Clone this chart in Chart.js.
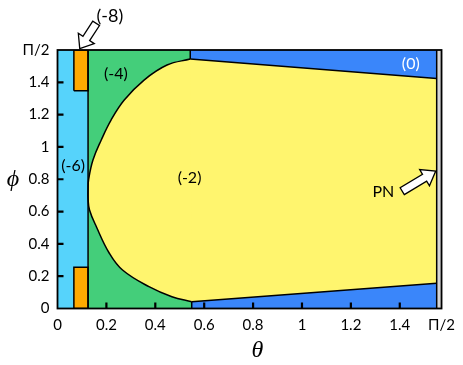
<!DOCTYPE html>
<html>
<head>
<meta charset="utf-8">
<script src="https://cdn.jsdelivr.net/npm/chart.js@4.4.0/dist/chart.umd.min.js"></script>
<style>
body{margin:0;background:#fff}
#wrap{width:463px;height:365px;position:relative}
</style>
</head>
<body>
<div id="wrap"><canvas id="phase"></canvas></div>
<script>
// axes
const thetaMax = Math.PI / 2
const phiMax = 1.6
const xTicks = [0, 0.2, 0.4, 0.6, 0.8, 1, 1.2, 1.4, thetaMax]
const xTickLabels = ['0', '0.2', '0.4', '0.6', '0.8', '1', '1.2', '1.4', 'Π/2']
const yTicks = [0, 0.2, 0.4, 0.6, 0.8, 1, 1.2, 1.4, phiMax]
const yTickLabels = ['0', '0.2', '0.4', '0.6', '0.8', '1', '1.2', '1.4', 'Π/2']

// boundary (-4)/(-2), read from top to bottom
const curveTheta = [0.543, 0.448, 0.354, 0.273, 0.219, 0.179, 0.145, 0.127, 0.125, 0.125, 0.131, 0.159, 0.212, 0.266, 0.374, 0.468, 0.549]
const curvePhi   = [1.544, 1.507, 1.414, 1.290, 1.166, 1.043, 0.919, 0.795, 0.740, 0.680, 0.610, 0.506, 0.342, 0.238, 0.135, 0.073, 0.042]
// boundaries (-2)/(0)
const upperEdgeTheta = [0.543, 1.551]
const upperEdgePhi = [1.544, 1.424]
const lowerEdgeTheta = [0.549, 1.551]
const lowerEdgePhi = [0.042, 0.156]
// (-6) strip, (-8) bars, PN strip
const stripTheta = [0, 0.125]
const barTheta = [0.067, 0.125]
const upperBarPhi = [1.348, phiMax]
const lowerBarPhi = [0, 0.255]
const pnTheta = [1.551, thetaMax]

// region names
const regionLabels = ['(-8)', '(-4)', '(-6)', '(-2)', '(0)', 'PN']
const labelTheta = [0.214, 0.239, 0.064, 0.54, 1.445, 1.333]
const labelPhi = [1.811, 1.45, 0.882, 0.811, 1.517, 0.722]

const CYAN = 'rgb(86,211,251)'
const GREEN = 'rgb(68,206,122)'
const YELLOW = 'rgb(255,245,110)'
const BLUE = 'rgb(58,134,250)'
const GRAY = 'rgb(212,212,212)'
const ORANGE = 'rgb(255,170,0)'

function pts(xs, ys, close){
    let out = xs.map((x, i) => ({x: x, y: ys[i]}))
    if(close) out.push({x: xs[0], y: ys[0]})
    return out
}

function rect(x0, x1, y0, y1){
    return pts([x0, x1, x1, x0], [y0, y0, y1, y1], true)
}

// filled areas, no outlines
const fills = [
    {color: CYAN, data: rect(stripTheta[0], stripTheta[1], 0, phiMax)},
    {color: GREEN, data: pts(
        [stripTheta[1], lowerEdgeTheta[0], lowerEdgeTheta[0], upperEdgeTheta[0], upperEdgeTheta[0], stripTheta[1]],
        [0, 0, lowerEdgePhi[0], upperEdgePhi[0], phiMax, phiMax], true)},
    {color: YELLOW, data: pts(
        curveTheta.concat([lowerEdgeTheta[1], upperEdgeTheta[1]]),
        curvePhi.concat([lowerEdgePhi[1], upperEdgePhi[1]]), true)},
    {color: YELLOW, data: pts(curveTheta, curvePhi, false), tension: 0.4},
    {color: BLUE, data: pts(
        [upperEdgeTheta[0], upperEdgeTheta[1], upperEdgeTheta[1], upperEdgeTheta[0]],
        [upperEdgePhi[0], upperEdgePhi[1], phiMax, phiMax], true)},
    {color: BLUE, data: pts(
        [lowerEdgeTheta[0], lowerEdgeTheta[1], lowerEdgeTheta[1], lowerEdgeTheta[0]],
        [0, 0, lowerEdgePhi[1], lowerEdgePhi[0]], true)},
    {color: GRAY, data: rect(pnTheta[0], pnTheta[1], 0, phiMax)},
    {color: ORANGE, data: rect(barTheta[0], barTheta[1], upperBarPhi[0], upperBarPhi[1])},
    {color: ORANGE, data: rect(barTheta[0], barTheta[1], lowerBarPhi[0], lowerBarPhi[1])}
]

// black boundary lines
const lines = [
    {data: pts(curveTheta, curvePhi, false), tension: 0.4},
    {data: pts(upperEdgeTheta, upperEdgePhi, false)},
    {data: pts(lowerEdgeTheta, lowerEdgePhi, false)},
    {data: pts([stripTheta[1], stripTheta[1]], [0, phiMax], false)},
    {data: pts([upperEdgeTheta[0], upperEdgeTheta[0]], [upperEdgePhi[0], phiMax], false)},
    {data: pts([lowerEdgeTheta[0], lowerEdgeTheta[0]], [0, lowerEdgePhi[0]], false)},
    {data: pts([pnTheta[0], pnTheta[0]], [0, phiMax], false)},
    {data: rect(barTheta[0], barTheta[1], upperBarPhi[0], upperBarPhi[1])},
    {data: rect(barTheta[0], barTheta[1], lowerBarPhi[0], lowerBarPhi[1])}
]

function drawArrow(ctx, x0, y0, x1, y1, shaft, head, headLen){
    let dx = x1 - x0, dy = y1 - y0
    let len = Math.sqrt(dx*dx + dy*dy)
    let ux = dx / len, uy = dy / len
    let nx = -uy, ny = ux
    let bx = x1 - ux * headLen, by = y1 - uy * headLen
    let p = [
        [x0 + nx*shaft/2, y0 + ny*shaft/2],
        [bx + nx*shaft/2, by + ny*shaft/2],
        [bx + nx*head/2, by + ny*head/2],
        [x1, y1],
        [bx - nx*head/2, by - ny*head/2],
        [bx - nx*shaft/2, by - ny*shaft/2],
        [x0 - nx*shaft/2, y0 - ny*shaft/2]
    ]
    ctx.beginPath()
    ctx.moveTo(p[0][0], p[0][1])
    for(let i = 1; i < p.length; i++) ctx.lineTo(p[i][0], p[i][1])
    ctx.closePath()
    ctx.fillStyle = '#fff'
    ctx.fill()
    ctx.lineWidth = 1.3
    ctx.strokeStyle = '#000'
    ctx.stroke()
}

const decorPlugin = {
    id: 'decor',
    afterDraw(chart){
        const ctx = chart.ctx
        const xs = chart.scales.x, ys = chart.scales.y
        const a = chart.chartArea
        ctx.save()
        // inward ticks
        ctx.strokeStyle = '#000'
        ctx.lineWidth = 2.2
        ctx.beginPath()
        for(let i = 1; i < xTicks.length - 1; i++){
            let px = xs.getPixelForValue(xTicks[i])
            ctx.moveTo(px, a.bottom)
            ctx.lineTo(px, a.bottom - 6)
        }
        for(let i = 1; i < yTicks.length - 1; i++){
            let py = ys.getPixelForValue(yTicks[i])
            ctx.moveTo(a.left, py)
            ctx.lineTo(a.left + 6, py)
        }
        ctx.stroke()
        // frame
        ctx.lineWidth = 1.8
        ctx.strokeRect(a.left, a.top, a.right - a.left, a.bottom - a.top)

        // region labels
        ctx.textAlign = 'center'
        ctx.textBaseline = 'middle'
        for(let i = 0; i < regionLabels.length; i++){
            let px = xs.getPixelForValue(labelTheta[i])
            let py = ys.getPixelForValue(labelPhi[i])
            ctx.font = (i == 0 ? '18px' : '16px') + ' Lato'
            ctx.fillStyle = regionLabels[i] == '(0)' ? '#fff' : '#000'
            ctx.fillText(regionLabels[i], px, py)
        }
        // arrows to the thin regions
        drawArrow(ctx, xs.getPixelForValue(0.158), ys.getPixelForValue(1.765),
            xs.getPixelForValue(0.091), ys.getPixelForValue(1.609), 8, 19, 12)
        drawArrow(ctx, xs.getPixelForValue(1.41), ys.getPixelForValue(0.726),
            xs.getPixelForValue(1.547), ys.getPixelForValue(0.851), 8, 19, 13)

        // axis titles
        ctx.fillStyle = '#000'
        ctx.font = 'italic 24px "Liberation Serif"'
        ctx.fillText('θ', (a.left + a.right) / 2 + 8, 351)
        ctx.fillText('ϕ', 13, (a.top + a.bottom) / 2)
        ctx.restore()
    }
}

Chart.defaults.font.family = 'Lato'
Chart.defaults.font.size = 15
Chart.defaults.color = '#000'

const fillSets = fills.map((r, i) => ({
    data: r.data,
    backgroundColor: r.color,
    borderColor: r.color,
    borderWidth: 0,
    pointRadius: 0,
    tension: r.tension || 0,
    fill: 'shape',
    order: 100 - i
}))

const lineSets = lines.map(l => ({
    data: l.data,
    borderColor: '#000',
    borderWidth: 1.5,
    pointRadius: 0,
    tension: l.tension || 0,
    fill: false,
    order: 0
}))

const phaseChart = new Chart(document.getElementById('phase'), {
    type: 'line',
    data: {datasets: fillSets.concat(lineSets)},
    options: {
        responsive: true,
        maintainAspectRatio: false,
        animation: false,
        events: [],
        layout: {padding: {top: 50, right: 17, left: 0, bottom: 0}},
        plugins: {legend: {display: false}, tooltip: {enabled: false}},
        scales: {
            x: {
                type: 'linear',
                min: 0,
                max: thetaMax,
                grid: {display: false, drawTicks: false},
                border: {display: false},
                afterBuildTicks: s => { s.ticks = xTicks.map(v => ({value: v})) },
                afterFit: s => { s.height = 56.5 },
                ticks: {
                    autoSkip: false,
                    maxRotation: 0,
                    padding: 8,
                    callback: (v, i) => xTickLabels[i]
                }
            },
            y: {
                type: 'linear',
                min: 0,
                max: phiMax,
                grid: {display: false, drawTicks: false},
                border: {display: false},
                afterBuildTicks: s => { s.ticks = yTicks.map(v => ({value: v})) },
                afterFit: s => { s.width = 57.5 },
                ticks: {
                    autoSkip: false,
                    padding: 8,
                    callback: (v, i) => yTickLabels[i]
                }
            }
        }
    },
    plugins: [decorPlugin]
})
</script>
</body>
</html>
